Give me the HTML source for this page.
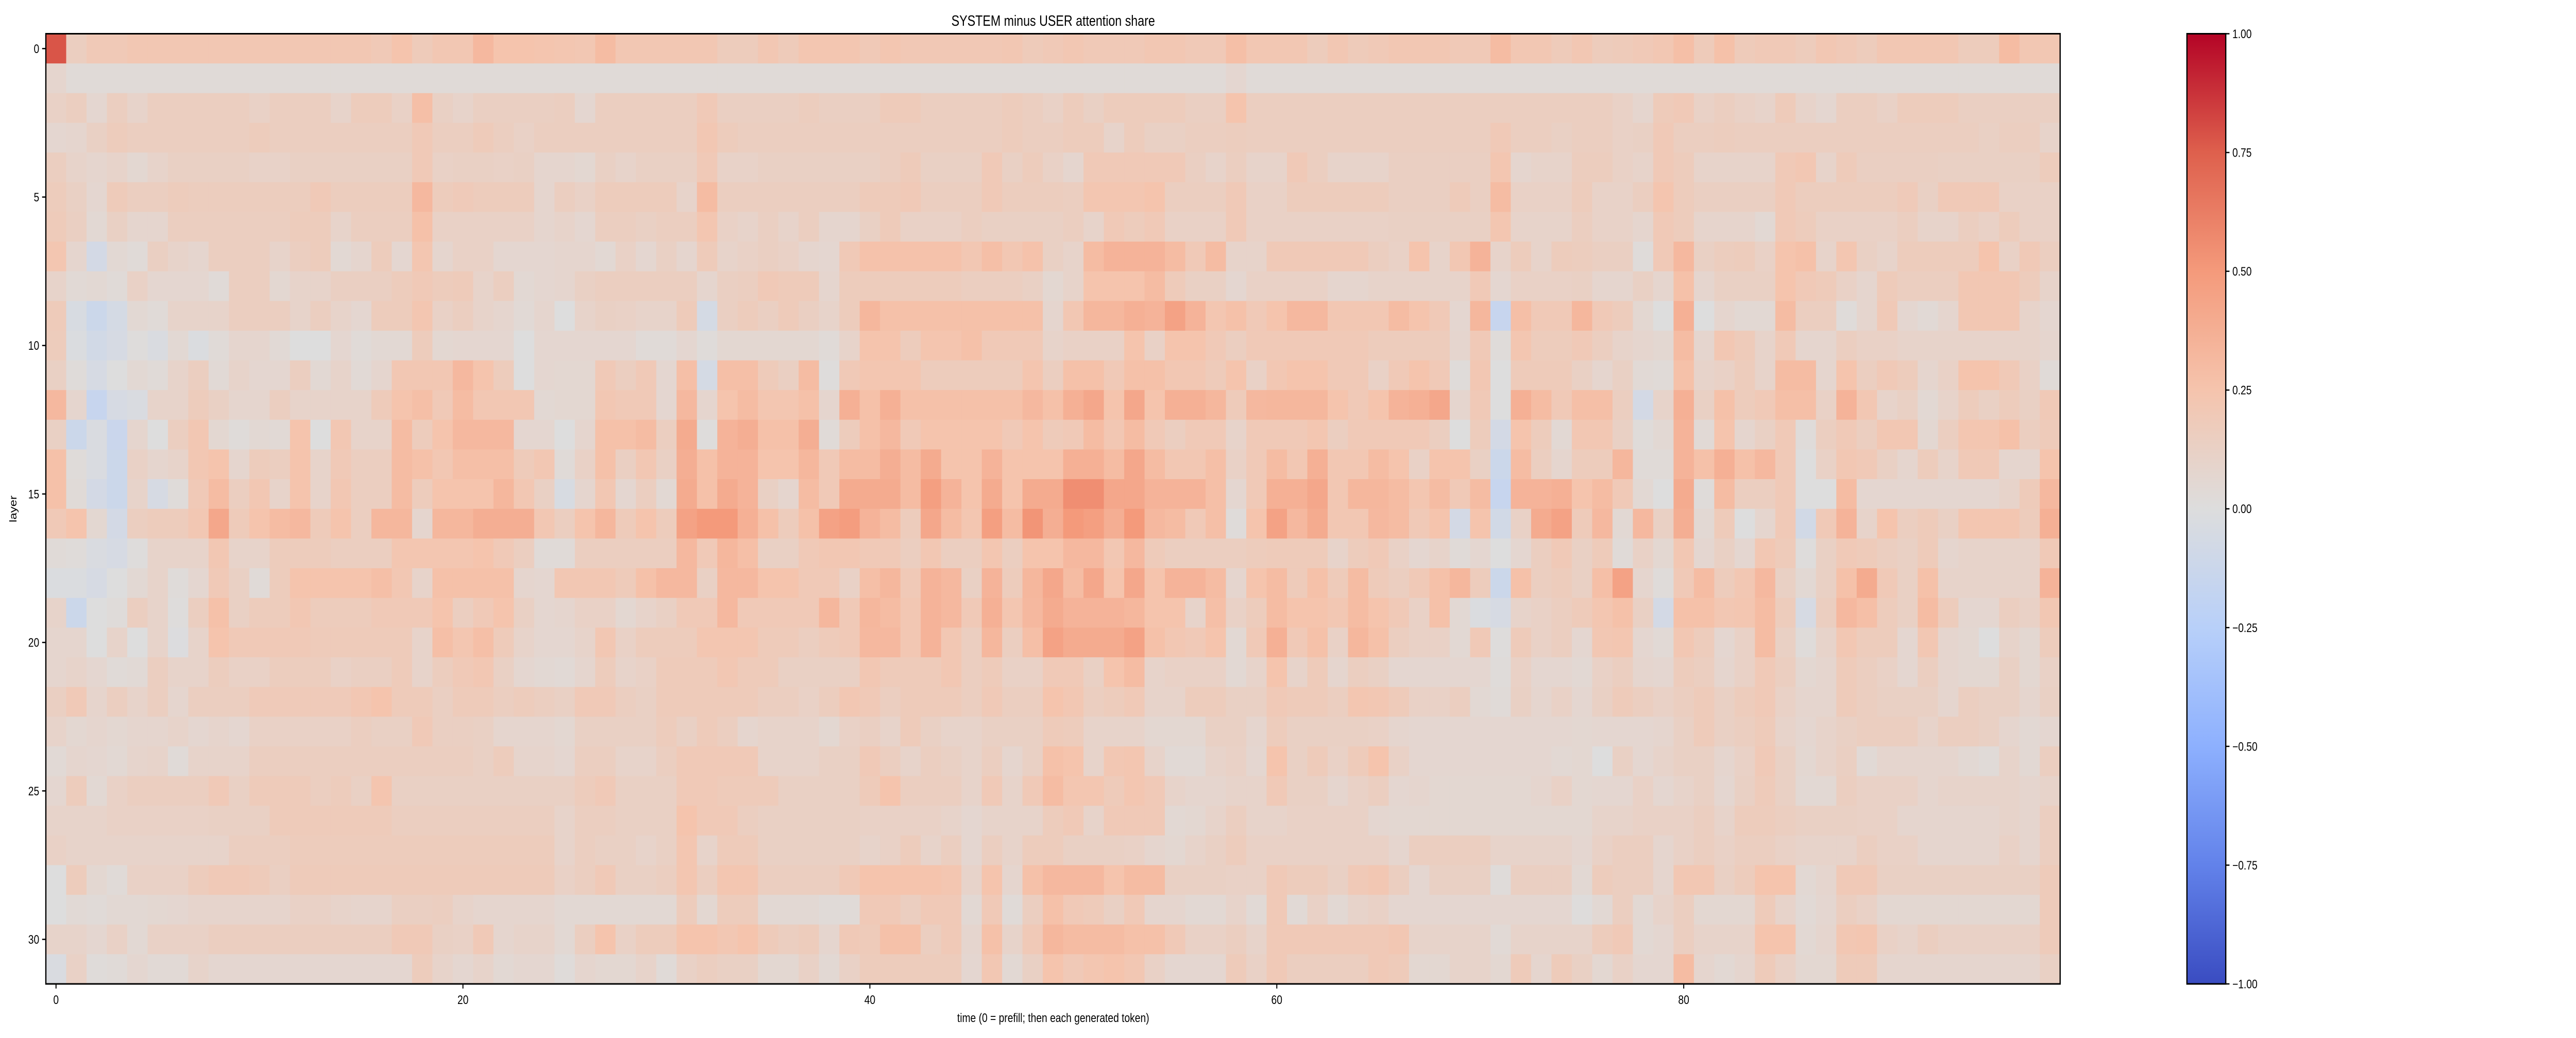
<!DOCTYPE html>
<html>
<head>
<meta charset="utf-8">
<style>
html,body{margin:0;padding:0;background:#fff;width:100vw;height:100vh;overflow:hidden;}
#chart{display:block;position:absolute;left:0;top:0;width:100vw;height:100vh;}
text{font-family:"Liberation Sans","DejaVu Sans",sans-serif;fill:#000;}
</style>
</head>
<body>
<svg id="chart" viewBox="0 0 6237 2015" preserveAspectRatio="none" xmlns="http://www.w3.org/2000/svg">
  <rect x="0" y="0" width="6237" height="2015" fill="#ffffff"/>
  <text x="2550" y="50" font-size="29" text-anchor="middle">SYSTEM minus USER attention share</text>
  <g id="cells"></g>
  <g id="axes"></g>
  <defs>
    <linearGradient id="cbgrad" x1="0" y1="1" x2="0" y2="0"></linearGradient>
  </defs>
  <g id="colorbar"></g>
  <text x="2550" y="1984" font-size="24" text-anchor="middle">time (0 = prefill; then each generated token)</text>
  <text x="0" y="0" font-size="24" text-anchor="middle" transform="translate(40,988) rotate(-90)">layer</text>
</svg>
<script>
const xTicks = [0, 20, 40, 60, 80];
const xTickLabels = ["0", "20", "40", "60", "80"];
const yTicks = [0, 5, 10, 15, 20, 25, 30];
const yTickLabels = ["0", "5", "10", "15", "20", "25", "30"];
const cbTicks = [-1, -0.75, -0.5, -0.25, 0, 0.25, 0.5, 0.75, 1];
const cbTickLabels = ["\u22121.00", "\u22120.75", "\u22120.50", "\u22120.25", "0.00", "0.25", "0.50", "0.75", "1.00"];
const vmin = -1, vmax = 1;

const layer00 = [0.78,0.15,0.2,0.2,0.22,0.22,0.22,0.22,0.22,0.22,0.22,0.22,0.22,0.22,0.22,0.22,0.2,0.25,0.18,0.22,0.22,0.32,0.25,0.25,0.24,0.23,0.22,0.3,0.22,0.22,0.22,0.22,0.22,0.17,0.17,0.22,0.18,0.23,0.23,0.23,0.2,0.23,0.21,0.21,0.21,0.21,0.21,0.22,0.18,0.2,0.22,0.2,0.2,0.2,0.22,0.22,0.2,0.2,0.28,0.22,0.22,0.22,0.17,0.22,0.18,0.2,0.22,0.22,0.22,0.2,0.2,0.3,0.22,0.22,0.18,0.22,0.17,0.18,0.2,0.22,0.28,0.18,0.27,0.18,0.2,0.2,0.17,0.22,0.2,0.17,0.22,0.22,0.22,0.22,0.17,0.17,0.3,0.22,0.22];
const layer01 = [0.08,0.03,0.03,0.03,0.03,0.03,0.03,0.03,0.03,0.03,0.03,0.03,0.03,0.03,0.03,0.03,0.03,0.03,0.03,0.03,0.03,0.03,0.03,0.03,0.03,0.03,0.03,0.03,0.03,0.03,0.03,0.03,0.03,0.03,0.03,0.03,0.03,0.03,0.03,0.03,0.03,0.03,0.03,0.03,0.03,0.03,0.03,0.03,0.03,0.03,0.03,0.03,0.03,0.03,0.03,0.03,0.03,0.03,0.07,0.03,0.03,0.03,0.03,0.03,0.03,0.03,0.03,0.03,0.03,0.03,0.03,0.03,0.03,0.03,0.03,0.03,0.03,0.03,0.03,0.03,0.03,0.03,0.03,0.03,0.03,0.03,0.03,0.03,0.03,0.03,0.03,0.03,0.03,0.03,0.03,0.03,0.03,0.03,0.03];
const layer02 = [0.12,0.15,0.07,0.15,0.1,0.15,0.15,0.15,0.15,0.15,0.12,0.15,0.15,0.15,0.1,0.17,0.17,0.12,0.28,0.13,0.1,0.14,0.14,0.14,0.14,0.15,0.07,0.15,0.15,0.15,0.15,0.15,0.2,0.14,0.14,0.14,0.14,0.16,0.14,0.14,0.14,0.18,0.18,0.15,0.15,0.15,0.15,0.17,0.15,0.12,0.17,0.13,0.17,0.17,0.17,0.17,0.14,0.14,0.25,0.15,0.15,0.15,0.15,0.15,0.15,0.15,0.15,0.15,0.15,0.15,0.15,0.15,0.15,0.15,0.15,0.15,0.15,0.12,0.08,0.18,0.2,0.12,0.15,0.12,0.1,0.18,0.1,0.07,0.15,0.15,0.12,0.17,0.17,0.17,0.14,0.14,0.14,0.14,0.14];
const layer03 = [0.07,0.08,0.13,0.17,0.15,0.15,0.15,0.15,0.15,0.15,0.17,0.15,0.15,0.15,0.15,0.15,0.15,0.15,0.2,0.15,0.15,0.18,0.15,0.12,0.15,0.15,0.15,0.15,0.15,0.15,0.15,0.15,0.22,0.17,0.15,0.15,0.15,0.15,0.15,0.15,0.15,0.15,0.15,0.15,0.15,0.15,0.15,0.17,0.15,0.15,0.17,0.17,0.1,0.17,0.13,0.13,0.15,0.15,0.16,0.15,0.15,0.15,0.15,0.15,0.15,0.15,0.15,0.15,0.15,0.15,0.15,0.2,0.15,0.15,0.13,0.15,0.15,0.12,0.13,0.2,0.15,0.15,0.16,0.15,0.15,0.15,0.15,0.15,0.15,0.15,0.15,0.15,0.15,0.15,0.15,0.13,0.15,0.15,0.1];
const layer04 = [0.15,0.1,0.08,0.1,0.06,0.1,0.13,0.13,0.13,0.13,0.11,0.11,0.13,0.13,0.13,0.13,0.13,0.13,0.2,0.12,0.13,0.13,0.12,0.13,0.08,0.08,0.06,0.13,0.1,0.13,0.13,0.13,0.2,0.11,0.11,0.13,0.13,0.13,0.13,0.13,0.13,0.15,0.18,0.13,0.13,0.13,0.2,0.13,0.17,0.12,0.08,0.2,0.2,0.2,0.2,0.2,0.14,0.1,0.15,0.1,0.1,0.2,0.15,0.1,0.1,0.1,0.14,0.14,0.14,0.14,0.14,0.23,0.08,0.1,0.1,0.16,0.16,0.12,0.1,0.2,0.17,0.1,0.1,0.1,0.1,0.2,0.22,0.1,0.18,0.14,0.14,0.14,0.14,0.13,0.13,0.13,0.13,0.13,0.17];
const layer05 = [0.17,0.13,0.07,0.18,0.15,0.15,0.17,0.16,0.16,0.16,0.16,0.16,0.16,0.2,0.16,0.16,0.16,0.16,0.32,0.17,0.19,0.17,0.17,0.17,0.08,0.15,0.12,0.17,0.17,0.17,0.17,0.1,0.3,0.15,0.15,0.15,0.15,0.15,0.15,0.15,0.18,0.18,0.2,0.15,0.15,0.15,0.2,0.16,0.16,0.16,0.15,0.23,0.23,0.23,0.25,0.15,0.15,0.15,0.2,0.12,0.12,0.17,0.17,0.17,0.17,0.17,0.14,0.14,0.14,0.18,0.14,0.3,0.12,0.12,0.12,0.17,0.11,0.11,0.15,0.24,0.17,0.14,0.14,0.14,0.14,0.2,0.16,0.16,0.16,0.16,0.16,0.19,0.13,0.2,0.2,0.2,0.12,0.12,0.12];
const layer06 = [0.18,0.14,0.05,0.13,0.08,0.08,0.15,0.15,0.15,0.15,0.15,0.15,0.17,0.17,0.1,0.15,0.15,0.15,0.27,0.12,0.12,0.12,0.12,0.12,0.08,0.1,0.07,0.15,0.15,0.13,0.15,0.15,0.23,0.12,0.1,0.14,0.1,0.15,0.08,0.08,0.13,0.18,0.12,0.12,0.12,0.15,0.13,0.13,0.13,0.13,0.15,0.1,0.2,0.17,0.2,0.12,0.12,0.12,0.2,0.12,0.12,0.12,0.12,0.12,0.12,0.12,0.13,0.13,0.13,0.13,0.13,0.23,0.1,0.1,0.1,0.15,0.11,0.11,0.08,0.2,0.17,0.09,0.09,0.09,0.05,0.2,0.17,0.12,0.12,0.12,0.12,0.15,0.1,0.1,0.15,0.12,0.17,0.12,0.12];
const layer07 = [0.23,0.08,-0.07,0.05,0.03,0.14,0.1,0.08,0.15,0.15,0.15,0.1,0.15,0.17,0.05,0.08,0.17,0.07,0.23,0.08,0.12,0.12,0.07,0.07,0.07,0.08,0.08,0.05,0.12,0.07,0.13,0.08,0.18,0.1,0.12,0.14,0.12,0.08,0.07,0.2,0.26,0.26,0.26,0.26,0.26,0.22,0.28,0.22,0.26,0.13,0.1,0.3,0.35,0.35,0.35,0.3,0.2,0.3,0.1,0.1,0.2,0.2,0.2,0.2,0.2,0.15,0.12,0.25,0.1,0.22,0.35,0.1,0.17,0.1,0.17,0.16,0.14,0.14,0.02,0.2,0.32,0.13,0.16,0.17,0.12,0.25,0.27,0.1,0.23,0.13,0.1,0.17,0.17,0.17,0.17,0.25,0.12,0.2,0.15];
const layer08 = [0.1,0.04,0.05,0.03,0.12,0.07,0.07,0.07,0.03,0.15,0.15,0.06,0.1,0.1,0.14,0.14,0.14,0.17,0.2,0.17,0.18,0.1,0.15,0.05,0.07,0.08,0.13,0.15,0.15,0.15,0.15,0.15,0.08,0.14,0.15,0.2,0.18,0.18,0.08,0.17,0.17,0.17,0.17,0.17,0.17,0.15,0.15,0.15,0.13,0.06,0.1,0.25,0.25,0.25,0.3,0.18,0.13,0.13,0.07,0.12,0.12,0.12,0.12,0.08,0.08,0.1,0.1,0.1,0.1,0.1,0.2,0.07,0.12,0.12,0.12,0.13,0.08,0.08,0.13,0.08,0.27,0.08,0.13,0.13,0.13,0.25,0.2,0.18,0.12,0.08,0.18,0.15,0.15,0.15,0.22,0.22,0.22,0.17,0.1];
const layer09 = [0.18,-0.04,-0.12,-0.06,0.05,0.03,0.1,0.1,0.1,0.15,0.15,0.15,0.1,0.15,0.1,0.07,0.17,0.17,0.23,0.12,0.15,0.1,0.08,0.04,0.08,0.0,0.1,0.13,0.12,0.1,0.1,0.18,-0.06,0.14,0.17,0.14,0.18,0.14,0.1,0.17,0.33,0.27,0.27,0.27,0.27,0.27,0.27,0.27,0.27,0.08,0.22,0.33,0.33,0.37,0.35,0.45,0.35,0.23,0.27,0.2,0.25,0.32,0.32,0.22,0.22,0.22,0.3,0.25,0.2,0.07,0.33,-0.15,0.28,0.2,0.2,0.33,0.2,0.17,0.06,0.0,0.37,0.0,0.08,0.05,0.05,0.3,0.15,0.15,0.02,0.08,0.2,0.07,0.04,0.08,0.22,0.22,0.22,0.1,0.07];
const layer10 = [0.17,-0.02,-0.08,-0.05,0.01,-0.03,0.05,-0.02,0.03,0.08,0.08,0.04,0.0,0.0,0.07,0.03,0.05,0.05,0.17,0.06,0.07,0.07,0.07,0.0,0.07,0.07,0.07,0.07,0.07,0.03,0.03,0.07,0.02,0.06,0.06,0.06,0.06,0.06,0.03,0.1,0.25,0.25,0.17,0.24,0.24,0.27,0.2,0.2,0.2,0.1,0.12,0.12,0.12,0.25,0.12,0.25,0.25,0.2,0.15,0.2,0.2,0.2,0.2,0.2,0.2,0.17,0.17,0.17,0.17,0.08,0.2,0.02,0.23,0.17,0.17,0.2,0.15,0.1,0.08,0.06,0.3,0.08,0.22,0.18,0.1,0.2,0.08,0.08,0.15,0.12,0.12,0.1,0.1,0.1,0.1,0.1,0.1,0.1,0.08];
const layer11 = [0.13,0.02,-0.05,0.0,0.05,0.03,0.1,0.15,0.04,0.1,0.07,0.07,0.15,0.05,0.1,0.04,0.08,0.22,0.22,0.22,0.32,0.25,0.17,0.0,0.07,0.06,0.06,0.2,0.15,0.2,0.07,0.28,-0.06,0.28,0.28,0.18,0.14,0.3,0.01,0.2,0.23,0.23,0.23,0.17,0.17,0.17,0.17,0.17,0.24,0.15,0.27,0.27,0.2,0.27,0.27,0.22,0.22,0.18,0.25,0.12,0.22,0.25,0.25,0.2,0.2,0.12,0.2,0.25,0.2,0.02,0.22,0.0,0.18,0.18,0.18,0.13,0.08,0.13,0.04,0.03,0.27,0.1,0.12,0.17,0.1,0.3,0.3,0.08,0.25,0.15,0.2,0.17,0.08,0.12,0.25,0.25,0.2,0.12,0.03];
const layer12 = [0.32,0.08,-0.15,-0.05,-0.03,0.1,0.1,0.17,0.13,0.08,0.08,0.15,0.1,0.1,0.1,0.1,0.18,0.25,0.28,0.2,0.3,0.22,0.22,0.22,0.05,0.06,0.06,0.22,0.2,0.2,0.07,0.32,0.08,0.25,0.3,0.23,0.23,0.27,0.08,0.37,0.27,0.37,0.27,0.27,0.27,0.27,0.27,0.27,0.32,0.27,0.37,0.42,0.25,0.42,0.25,0.37,0.37,0.33,0.18,0.32,0.33,0.33,0.33,0.25,0.2,0.25,0.35,0.37,0.42,0.08,0.2,0.0,0.37,0.3,0.2,0.28,0.28,0.15,-0.07,0.1,0.37,0.13,0.27,0.17,0.2,0.28,0.28,0.12,0.35,0.22,0.1,0.13,0.05,0.1,0.17,0.13,0.17,0.13,0.2];
const layer13 = [0.13,-0.12,-0.03,-0.13,0.08,0.0,0.15,0.22,0.06,0.02,0.05,0.04,0.25,0.0,0.22,0.1,0.1,0.3,0.17,0.25,0.32,0.32,0.32,0.07,0.07,0.0,0.08,0.27,0.27,0.3,0.15,0.4,0.01,0.35,0.38,0.27,0.27,0.38,0.03,0.17,0.27,0.32,0.2,0.25,0.25,0.25,0.25,0.2,0.25,0.18,0.2,0.3,0.22,0.3,0.2,0.15,0.2,0.2,0.1,0.2,0.2,0.2,0.23,0.15,0.2,0.2,0.2,0.2,0.15,0.0,0.17,-0.07,0.25,0.17,0.05,0.22,0.22,0.13,0.02,0.05,0.35,0.04,0.25,0.08,0.13,0.2,0.02,0.15,0.2,0.15,0.22,0.22,0.06,0.15,0.23,0.23,0.27,0.15,0.18];
const layer14 = [0.27,0.02,-0.03,-0.12,0.12,0.08,0.1,0.22,0.25,0.08,0.17,0.15,0.25,0.1,0.2,0.15,0.15,0.3,0.27,0.22,0.28,0.28,0.28,0.18,0.22,0.03,0.12,0.27,0.14,0.22,0.13,0.38,0.27,0.35,0.35,0.25,0.25,0.33,0.2,0.3,0.3,0.38,0.3,0.4,0.25,0.25,0.35,0.25,0.25,0.25,0.37,0.37,0.3,0.42,0.3,0.22,0.22,0.28,0.12,0.2,0.3,0.22,0.37,0.22,0.22,0.3,0.25,0.12,0.25,0.25,0.13,-0.12,0.3,0.15,0.08,0.17,0.17,0.33,0.03,0.03,0.35,0.27,0.37,0.27,0.32,0.2,0.0,0.12,0.22,0.2,0.13,0.08,0.17,0.1,0.2,0.2,0.08,0.08,0.25];
const layer15 = [0.27,0.03,-0.07,-0.12,0.1,-0.05,0.02,0.2,0.3,0.15,0.22,0.1,0.25,0.1,0.22,0.15,0.15,0.3,0.17,0.25,0.25,0.25,0.33,0.22,0.13,-0.04,0.08,0.22,0.07,0.15,0.05,0.4,0.27,0.4,0.35,0.13,0.08,0.3,0.2,0.4,0.4,0.4,0.3,0.47,0.35,0.25,0.4,0.25,0.4,0.4,0.55,0.55,0.42,0.42,0.35,0.35,0.35,0.28,0.07,0.2,0.37,0.37,0.42,0.22,0.33,0.33,0.3,0.23,0.3,0.2,0.3,-0.15,0.35,0.35,0.37,0.25,0.3,0.2,0.05,0.0,0.4,0.02,0.3,0.15,0.15,0.2,0.0,0.0,0.3,0.07,0.07,0.07,0.07,0.07,0.07,0.07,0.1,0.18,0.32];
const layer16 = [0.2,0.25,0.06,-0.07,0.15,0.17,0.17,0.22,0.42,0.18,0.25,0.3,0.32,0.18,0.25,0.15,0.33,0.33,0.08,0.33,0.33,0.38,0.38,0.38,0.22,0.15,0.25,0.33,0.18,0.25,0.17,0.45,0.5,0.5,0.37,0.27,0.17,0.27,0.45,0.48,0.35,0.3,0.17,0.42,0.3,0.23,0.47,0.3,0.52,0.38,0.5,0.47,0.38,0.5,0.32,0.3,0.2,0.28,0.02,0.25,0.45,0.32,0.4,0.22,0.22,0.32,0.3,0.2,0.25,-0.07,0.25,-0.08,0.12,0.4,0.45,0.18,0.32,0.05,0.32,0.13,0.38,0.05,0.18,0.0,0.08,0.2,-0.08,0.2,0.35,0.1,0.25,0.15,0.18,0.13,0.23,0.23,0.23,0.17,0.37];
const layer17 = [0.03,0.02,-0.03,-0.05,0.01,0.1,0.1,0.1,0.22,0.1,0.1,0.17,0.17,0.17,0.15,0.15,0.15,0.23,0.23,0.23,0.23,0.25,0.2,0.15,0.03,0.03,0.15,0.15,0.15,0.15,0.15,0.32,0.2,0.33,0.28,0.13,0.13,0.2,0.22,0.22,0.2,0.2,0.15,0.22,0.15,0.15,0.23,0.15,0.25,0.25,0.32,0.32,0.22,0.32,0.18,0.15,0.15,0.15,0.15,0.17,0.18,0.18,0.18,0.1,0.17,0.2,0.12,0.07,0.1,0.03,0.07,0.0,0.07,0.15,0.2,0.13,0.18,0.03,0.12,0.06,0.22,0.07,0.13,0.07,0.22,0.18,0.01,0.13,0.2,0.18,0.15,0.13,0.18,0.08,0.1,0.1,0.1,0.1,0.2];
const layer18 = [-0.02,-0.02,-0.05,0.0,0.05,0.1,0.02,0.07,0.2,0.13,0.03,0.17,0.25,0.25,0.25,0.25,0.28,0.22,0.1,0.27,0.27,0.27,0.27,0.08,0.07,0.22,0.22,0.22,0.18,0.27,0.32,0.32,0.13,0.32,0.32,0.25,0.25,0.2,0.2,0.12,0.28,0.33,0.2,0.35,0.32,0.13,0.35,0.17,0.33,0.42,0.3,0.42,0.25,0.42,0.25,0.35,0.35,0.3,0.08,0.25,0.3,0.18,0.27,0.18,0.3,0.18,0.15,0.2,0.27,0.33,0.17,-0.12,0.27,0.15,0.17,0.13,0.28,0.45,0.08,0.02,0.2,0.3,0.17,0.22,0.32,0.13,0.05,0.13,0.27,0.4,0.2,0.13,0.27,0.1,0.1,0.1,0.1,0.1,0.35];
const layer19 = [0.1,-0.12,0.0,0.02,0.15,0.1,0.01,0.15,0.27,0.13,0.17,0.17,0.22,0.17,0.17,0.17,0.2,0.2,0.2,0.25,0.15,0.2,0.25,0.13,0.07,0.08,0.12,0.12,0.06,0.1,0.13,0.2,0.2,0.32,0.2,0.2,0.2,0.2,0.33,0.2,0.33,0.3,0.22,0.35,0.32,0.2,0.37,0.23,0.32,0.4,0.35,0.35,0.35,0.33,0.25,0.25,0.1,0.28,0.12,0.17,0.3,0.25,0.25,0.22,0.3,0.25,0.2,0.12,0.27,0.05,-0.02,-0.05,0.1,0.12,0.15,0.18,0.23,0.27,0.13,-0.07,0.27,0.27,0.22,0.23,0.3,0.17,-0.05,0.15,0.32,0.28,0.17,0.13,0.3,0.17,0.07,0.07,0.15,0.12,0.22];
const layer20 = [0.08,0.08,0.0,0.1,0.0,0.1,-0.01,0.1,0.25,0.2,0.2,0.2,0.2,0.18,0.18,0.18,0.18,0.18,0.1,0.28,0.23,0.28,0.18,0.1,0.07,0.07,0.1,0.22,0.12,0.17,0.17,0.17,0.23,0.23,0.23,0.18,0.18,0.15,0.18,0.2,0.32,0.32,0.22,0.35,0.22,0.15,0.33,0.15,0.28,0.45,0.4,0.4,0.4,0.45,0.27,0.22,0.2,0.25,0.05,0.2,0.37,0.2,0.27,0.12,0.33,0.27,0.15,0.12,0.12,0.05,0.2,0.01,0.18,0.12,0.15,0.07,0.22,0.23,0.07,0.04,0.22,0.17,0.07,0.12,0.3,0.13,0.02,0.1,0.22,0.17,0.17,0.07,0.22,0.08,0.06,0.0,0.1,0.06,0.17];
const layer21 = [0.08,0.1,0.07,0.03,0.04,0.15,0.1,0.1,0.16,0.12,0.12,0.16,0.16,0.16,0.12,0.14,0.14,0.18,0.1,0.16,0.2,0.22,0.13,0.07,0.05,0.04,0.08,0.17,0.1,0.12,0.18,0.18,0.18,0.22,0.18,0.18,0.13,0.13,0.13,0.13,0.22,0.18,0.18,0.18,0.22,0.15,0.18,0.12,0.12,0.2,0.2,0.13,0.25,0.3,0.1,0.12,0.12,0.12,0.05,0.1,0.25,0.1,0.18,0.08,0.15,0.13,0.07,0.07,0.07,0.07,0.07,0.02,0.12,0.07,0.07,0.05,0.12,0.15,0.08,0.07,0.17,0.15,0.08,0.12,0.2,0.15,0.06,0.08,0.18,0.15,0.12,0.07,0.15,0.08,0.06,0.06,0.13,0.06,0.12];
const layer22 = [0.14,0.2,0.09,0.15,0.1,0.15,0.08,0.15,0.15,0.15,0.19,0.19,0.19,0.19,0.19,0.22,0.25,0.18,0.18,0.14,0.18,0.18,0.15,0.17,0.15,0.13,0.2,0.2,0.15,0.13,0.18,0.18,0.18,0.18,0.18,0.15,0.15,0.12,0.16,0.22,0.2,0.15,0.18,0.18,0.18,0.15,0.2,0.15,0.15,0.25,0.22,0.15,0.17,0.2,0.1,0.1,0.17,0.17,0.13,0.13,0.2,0.18,0.18,0.15,0.23,0.22,0.18,0.12,0.12,0.15,0.05,0.03,0.13,0.08,0.12,0.07,0.13,0.18,0.15,0.12,0.15,0.18,0.13,0.17,0.2,0.12,0.08,0.08,0.18,0.15,0.13,0.13,0.13,0.08,0.15,0.13,0.13,0.08,0.13];
const layer23 = [0.1,0.06,0.08,0.06,0.08,0.08,0.1,0.07,0.09,0.07,0.12,0.12,0.12,0.12,0.12,0.15,0.13,0.13,0.2,0.14,0.14,0.13,0.08,0.08,0.08,0.06,0.13,0.13,0.13,0.13,0.17,0.13,0.18,0.15,0.08,0.1,0.1,0.1,0.06,0.12,0.14,0.1,0.18,0.13,0.1,0.1,0.13,0.13,0.13,0.18,0.17,0.1,0.1,0.1,0.06,0.06,0.06,0.13,0.13,0.08,0.17,0.13,0.13,0.13,0.13,0.12,0.08,0.07,0.07,0.07,0.07,0.07,0.07,0.07,0.07,0.06,0.07,0.07,0.07,0.08,0.13,0.18,0.13,0.15,0.18,0.1,0.07,0.1,0.13,0.15,0.15,0.15,0.1,0.15,0.15,0.13,0.08,0.05,0.07];
const layer24 = [0.04,0.08,0.07,0.05,0.09,0.1,0.03,0.1,0.1,0.1,0.15,0.15,0.15,0.15,0.15,0.15,0.15,0.15,0.15,0.15,0.15,0.13,0.17,0.09,0.09,0.07,0.15,0.15,0.1,0.1,0.15,0.2,0.2,0.2,0.2,0.1,0.1,0.1,0.13,0.13,0.2,0.15,0.1,0.15,0.13,0.1,0.15,0.08,0.13,0.27,0.25,0.1,0.22,0.23,0.1,0.04,0.04,0.1,0.12,0.07,0.25,0.13,0.18,0.12,0.18,0.25,0.12,0.07,0.07,0.07,0.07,0.07,0.07,0.07,0.05,0.06,0.0,0.13,0.07,0.1,0.13,0.13,0.08,0.12,0.2,0.13,0.06,0.1,0.14,0.04,0.08,0.08,0.08,0.08,0.05,0.03,0.1,0.05,0.15];
const layer25 = [0.07,0.17,0.05,0.12,0.15,0.15,0.15,0.15,0.2,0.13,0.18,0.18,0.18,0.15,0.17,0.13,0.24,0.13,0.13,0.13,0.13,0.13,0.13,0.13,0.13,0.13,0.17,0.2,0.13,0.13,0.13,0.2,0.2,0.18,0.18,0.18,0.13,0.13,0.13,0.13,0.18,0.25,0.15,0.15,0.15,0.1,0.2,0.1,0.2,0.3,0.23,0.23,0.18,0.23,0.2,0.1,0.08,0.08,0.1,0.1,0.2,0.13,0.13,0.08,0.12,0.15,0.07,0.08,0.06,0.06,0.06,0.06,0.06,0.08,0.12,0.06,0.07,0.07,0.12,0.07,0.1,0.13,0.07,0.13,0.18,0.13,0.05,0.05,0.15,0.12,0.12,0.12,0.08,0.1,0.1,0.1,0.1,0.08,0.1];
const layer26 = [0.1,0.1,0.1,0.12,0.12,0.12,0.12,0.12,0.13,0.13,0.13,0.18,0.18,0.18,0.18,0.18,0.18,0.15,0.15,0.15,0.15,0.15,0.15,0.15,0.15,0.1,0.15,0.15,0.13,0.13,0.13,0.25,0.2,0.2,0.15,0.13,0.13,0.13,0.13,0.13,0.12,0.12,0.12,0.12,0.1,0.07,0.1,0.1,0.1,0.17,0.2,0.1,0.2,0.2,0.2,0.05,0.06,0.1,0.15,0.1,0.1,0.12,0.12,0.12,0.12,0.07,0.06,0.06,0.06,0.06,0.06,0.06,0.06,0.06,0.06,0.06,0.1,0.1,0.12,0.12,0.12,0.15,0.1,0.17,0.17,0.15,0.13,0.13,0.13,0.12,0.12,0.08,0.08,0.08,0.08,0.08,0.1,0.08,0.15];
const layer27 = [0.12,0.1,0.1,0.1,0.1,0.1,0.1,0.1,0.1,0.15,0.15,0.15,0.17,0.17,0.17,0.17,0.17,0.17,0.17,0.17,0.17,0.17,0.17,0.17,0.17,0.1,0.15,0.13,0.13,0.1,0.13,0.23,0.1,0.18,0.18,0.13,0.13,0.13,0.13,0.13,0.1,0.12,0.17,0.1,0.15,0.07,0.15,0.1,0.17,0.17,0.13,0.13,0.13,0.12,0.08,0.06,0.1,0.13,0.17,0.12,0.12,0.12,0.12,0.12,0.12,0.12,0.08,0.15,0.15,0.15,0.15,0.1,0.1,0.1,0.1,0.07,0.12,0.15,0.15,0.08,0.12,0.15,0.12,0.15,0.15,0.12,0.1,0.1,0.1,0.15,0.12,0.12,0.08,0.08,0.08,0.08,0.12,0.08,0.15];
const layer28 = [0.0,0.17,0.06,0.03,0.12,0.12,0.12,0.17,0.2,0.2,0.18,0.14,0.18,0.18,0.18,0.18,0.18,0.18,0.18,0.18,0.18,0.18,0.18,0.18,0.18,0.12,0.15,0.2,0.13,0.13,0.15,0.23,0.15,0.23,0.23,0.15,0.15,0.15,0.15,0.2,0.25,0.25,0.25,0.25,0.23,0.1,0.25,0.08,0.27,0.32,0.32,0.32,0.25,0.3,0.3,0.13,0.13,0.13,0.12,0.12,0.2,0.17,0.17,0.13,0.2,0.22,0.15,0.07,0.13,0.13,0.13,0.02,0.14,0.14,0.14,0.05,0.17,0.15,0.15,0.08,0.22,0.22,0.13,0.17,0.25,0.25,0.05,0.08,0.2,0.2,0.13,0.13,0.13,0.13,0.13,0.13,0.13,0.13,0.18];
const layer29 = [0.0,0.04,0.03,0.05,0.05,0.06,0.07,0.09,0.09,0.09,0.09,0.09,0.12,0.12,0.1,0.09,0.09,0.14,0.14,0.15,0.1,0.08,0.08,0.08,0.08,0.05,0.05,0.05,0.05,0.05,0.05,0.17,0.06,0.17,0.17,0.05,0.05,0.05,0.03,0.03,0.2,0.2,0.15,0.2,0.2,0.05,0.2,0.03,0.15,0.27,0.2,0.18,0.13,0.2,0.08,0.08,0.05,0.05,0.1,0.04,0.2,0.04,0.12,0.05,0.1,0.12,0.07,0.07,0.07,0.07,0.07,0.07,0.07,0.07,0.07,0.01,0.05,0.15,0.05,0.1,0.15,0.06,0.06,0.06,0.18,0.1,0.04,0.07,0.15,0.12,0.06,0.06,0.06,0.06,0.06,0.06,0.06,0.06,0.18];
const layer30 = [0.1,0.1,0.07,0.12,0.05,0.12,0.12,0.12,0.15,0.15,0.15,0.15,0.15,0.15,0.15,0.15,0.15,0.2,0.2,0.13,0.12,0.2,0.08,0.1,0.1,0.05,0.15,0.25,0.12,0.17,0.17,0.25,0.25,0.22,0.25,0.18,0.15,0.17,0.08,0.2,0.18,0.27,0.27,0.15,0.2,0.08,0.27,0.1,0.2,0.33,0.3,0.3,0.3,0.27,0.27,0.2,0.12,0.12,0.15,0.1,0.2,0.2,0.2,0.2,0.2,0.2,0.22,0.1,0.1,0.1,0.1,0.04,0.1,0.1,0.1,0.1,0.17,0.2,0.05,0.07,0.15,0.1,0.1,0.1,0.25,0.25,0.05,0.08,0.22,0.23,0.12,0.1,0.15,0.12,0.12,0.12,0.12,0.12,0.18];
const layer31 = [-0.03,0.12,0.02,0.03,0.07,0.04,0.04,0.1,0.07,0.07,0.07,0.07,0.07,0.07,0.07,0.07,0.07,0.07,0.17,0.1,0.07,0.1,0.05,0.07,0.07,0.02,0.08,0.06,0.06,0.1,0.03,0.12,0.15,0.13,0.13,0.06,0.06,0.12,0.05,0.12,0.17,0.17,0.17,0.17,0.17,0.07,0.22,0.05,0.13,0.25,0.2,0.23,0.25,0.22,0.12,0.07,0.07,0.07,0.18,0.12,0.2,0.15,0.15,0.15,0.15,0.2,0.18,0.06,0.06,0.1,0.1,0.06,0.18,0.08,0.18,0.13,0.06,0.12,0.07,0.07,0.3,0.08,0.05,0.08,0.18,0.12,0.06,0.06,0.18,0.18,0.08,0.08,0.08,0.08,0.08,0.08,0.08,0.08,0.13];

const layers = [layer00,layer01,layer02,layer03,layer04,layer05,layer06,layer07,layer08,layer09,layer10,layer11,layer12,layer13,layer14,layer15,layer16,layer17,layer18,layer19,layer20,layer21,layer22,layer23,layer24,layer25,layer26,layer27,layer28,layer29,layer30,layer31];

const SVGNS = "http://www.w3.org/2000/svg";
const plotL = 111, plotR = 4988, plotT = 65.5, plotB = 1910;
const nCols = layer00.length, nRows = layers.length;
const cw = (plotR - plotL) / nCols, rh = (plotB - plotT) / nRows;
function xScale(j) { return plotL + (j + 0.5) * cw; }
function yScale(i) { return plotT + (i + 0.5) * rh; }

const cmapStops = [[58,76,193],[98,130,234],[141,176,254],[184,208,249],[221,221,221],[245,196,173],[244,154,123],[222,96,77],[180,4,38]];
function coolwarm(v) {
  let t = (v - vmin) / (vmax - vmin);
  t = Math.max(0, Math.min(1, t));
  const p = t * (cmapStops.length - 1);
  const k = Math.min(cmapStops.length - 2, Math.floor(p));
  const f = p - k;
  const a = cmapStops[k], b = cmapStops[k + 1];
  const c = a.map((x, n) => Math.round(x + (b[n] - x) * f));
  return "rgb(" + c[0] + "," + c[1] + "," + c[2] + ")";
}

const cellsG = document.getElementById("cells");
for (let i = 0; i < nRows; i++) {
  for (let j = 0; j < nCols; j++) {
    const r = document.createElementNS(SVGNS, "rect");
    const x0 = xScale(j) - cw / 2, y0 = yScale(i) - rh / 2;
    const w = (j === nCols - 1) ? cw : cw + 0.6;
    const h = (i === nRows - 1) ? rh : rh + 0.6;
    r.setAttribute("x", x0.toFixed(2));
    r.setAttribute("y", y0.toFixed(2));
    r.setAttribute("width", w.toFixed(2));
    r.setAttribute("height", h.toFixed(2));
    r.setAttribute("fill", coolwarm(layers[i][j]));
    
    
    cellsG.appendChild(r);
  }
}

const axesG = document.getElementById("axes");
function mk(tag, attrs, text) {
  const e = document.createElementNS(SVGNS, tag);
  for (const k in attrs) e.setAttribute(k, attrs[k]);
  if (text !== undefined) e.textContent = text;
  return e;
}
const frame = mk("rect", {x: plotL, y: plotT, width: plotR - plotL, height: plotB - plotT, fill: "none", stroke: "#000", "stroke-width": 3});


axesG.appendChild(frame);

xTicks.forEach((t, n) => {
  const x = xScale(t);
  const ln = mk("line", {x1: x, y1: plotB, x2: x, y2: plotB + 9, stroke: "#000", "stroke-width": 2.5});
  
  
  axesG.appendChild(ln);
  const tx = mk("text", {x: x, y: plotB + 39, "font-size": 24, "text-anchor": "middle"}, xTickLabels[n]);
  
  
  axesG.appendChild(tx);
});
yTicks.forEach((t, n) => {
  const y = yScale(t);
  const ln = mk("line", {x1: plotL - 9, y1: y, x2: plotL, y2: y, stroke: "#000", "stroke-width": 2.5});
  
  
  axesG.appendChild(ln);
  const tx = mk("text", {x: plotL - 16, y: y + 8.5, "font-size": 24, "text-anchor": "end"}, yTickLabels[n]);
  
  
  axesG.appendChild(tx);
});

// colorbar
const cbL = 5295, cbR = 5389, cbT = 65.5, cbB = 1910;
const grad = document.getElementById("cbgrad");
cmapStops.forEach((c, n) => {
  const s = mk("stop", {offset: (n / (cmapStops.length - 1)).toFixed(4), "stop-color": "rgb(" + c.join(",") + ")"});
  grad.appendChild(s);
});
const cbG = document.getElementById("colorbar");
const cbRect = mk("rect", {x: cbL, y: cbT, width: cbR - cbL, height: cbB - cbT, fill: "url(#cbgrad)", stroke: "#000", "stroke-width": 3});


cbG.appendChild(cbRect);
function cbScale(v) { return cbB - (v - vmin) / (vmax - vmin) * (cbB - cbT); }
cbTicks.forEach((t, n) => {
  const y = cbScale(t);
  const ln = mk("line", {x1: cbR, y1: y, x2: cbR + 9, y2: y, stroke: "#000", "stroke-width": 2.5});
  
  
  cbG.appendChild(ln);
  const tx = mk("text", {x: cbR + 16, y: y + 8.5, "font-size": 24, "text-anchor": "start"}, cbTickLabels[n]);
  
  
  cbG.appendChild(tx);
});
</script>
</body>
</html>
